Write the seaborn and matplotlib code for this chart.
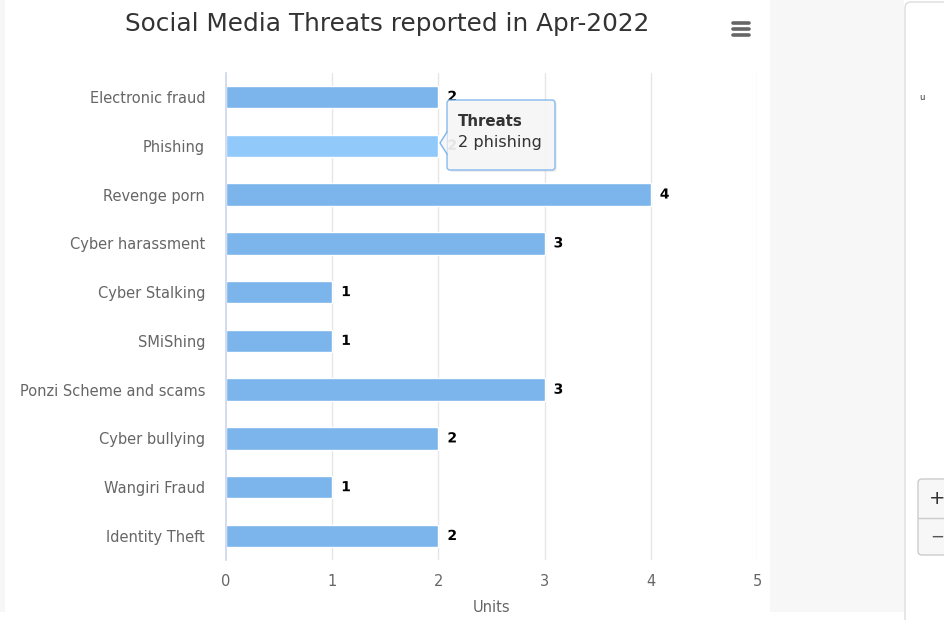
import matplotlib
matplotlib.use("Agg")
import matplotlib.pyplot as plt
from matplotlib.transforms import Affine2D
from matplotlib.patches import Rectangle, FancyBboxPatch, Polygon
from matplotlib.lines import Line2D
import matplotlib.patheffects as pe
import seaborn as sns
import pandas as pd

categories = ["Electronic fraud", "Phishing", "Revenge porn", "Cyber harassment",
              "Cyber Stalking", "SMiShing", "Ponzi Scheme and scams",
              "Cyber bullying", "Wangiri Fraud", "Identity Theft"]
threats = [2, 2, 4, 3, 1, 1, 3, 2, 1, 2]
x_ticks = [0, 1, 2, 3, 4, 5]
hovered = "Phishing"

title = "Social Media Threats reported in Apr-2022"
x_label = "Units"
tooltip_head = "Threats"
tooltip_body = "2 phishing"

W, H = 945, 620
sns.set_theme(style="white")
plt.rcParams["font.family"] = ["DejaVu Sans"]

fig = plt.figure(figsize=(W / 100, H / 100), dpi=100)
fig.patch.set_facecolor("white")
# pixel-based transform for the page decorations (origin at top-left)
px = Affine2D().scale(1 / W, -1 / H).translate(0, 1) + fig.transFigure

# page background: gray gutter and neighbouring panel
fig.add_artist(Rectangle((0, 0), 5, 612, transform=px, facecolor="#f7f7f7", edgecolor="none", zorder=0))
fig.add_artist(Rectangle((770, 0), 134, 612, transform=px, facecolor="#f7f7f7", edgecolor="none", zorder=0))
fig.add_artist(FancyBboxPatch((905, 2), 80, 700, boxstyle="round,pad=0,rounding_size=6",
                              transform=px, facecolor="white", edgecolor="#dcdcdc", lw=1, zorder=0))
fig.text(922 / W, 1 - 97 / H, "u", fontsize=6, color="#333333", ha="center", va="center")
fig.add_artist(FancyBboxPatch((918, 479), 60, 76, boxstyle="round,pad=0,rounding_size=4",
                              transform=px, facecolor="#f7f7f7", edgecolor="#cccccc", lw=1, zorder=1))
fig.add_artist(Line2D([918, 945], [518, 518], transform=px, color="#cccccc", lw=1, zorder=2))
fig.text(937 / W, 1 - 499 / H, "+", fontsize=14, color="#333333", ha="center", va="center")
fig.text(937 / W, 1 - 537 / H, "\u2212", fontsize=12, color="#555555", ha="center", va="center")

# plot area
top, bottom, left, right = 72.6, 560.4, 226, 757
ax = fig.add_axes([left / W, 1 - bottom / H, (right - left) / W, (bottom - top) / H])
ax.set_facecolor("white")

df = pd.DataFrame({"category": categories, "threats": threats})
palette = {c: ("#91c9fb" if c == hovered else "#7cb5ec") for c in categories}
sns.barplot(data=df, x="threats", y="category", hue="category", palette=palette,
            legend=False, orient="h", width=0.46, saturation=1, edgecolor="white",
            linewidth=1, ax=ax, zorder=3)

ax.set_xlim(0, 5)
ax.set_ylim(len(categories) - 0.5, -0.5)
ax.set_xticks(x_ticks)
ax.set_xticklabels([str(t) for t in x_ticks])
for t in x_ticks[1:]:
    ax.axvline(t, color="#e6e6e6", lw=1, zorder=1)
for s in ["top", "right", "bottom"]:
    ax.spines[s].set_visible(False)
ax.spines["left"].set_color("#ccd6eb")
ax.spines["left"].set_linewidth(1.2)
ax.spines["left"].set_zorder(4)
ax.tick_params(axis="both", length=0, colors="#666666", labelsize=10.5)
ax.tick_params(axis="y", pad=15)
ax.tick_params(axis="x", pad=10)
ax.set_ylabel("")
ax.set_xlabel(x_label, color="#666666", fontsize=10.5, labelpad=8)

# value labels at bar ends
for i, v in enumerate(threats):
    ax.annotate(str(v), xy=(v, i), xytext=(6.5, 0), textcoords="offset points",
                ha="left", va="center", fontsize=10, fontweight="bold", color="black",
                path_effects=[pe.withStroke(linewidth=2.5, foreground="white")], zorder=5)

fig.text(387 / W, 1 - 24 / H, title, fontsize=17.8, color="#333333", ha="center", va="center")

# export menu icon
for yy in (23, 29, 35):
    fig.add_artist(Line2D([733, 749], [yy, yy], transform=px, color="#666666", lw=2.6,
                          solid_capstyle="round", zorder=5))

# tooltip
fig.add_artist(FancyBboxPatch((449, 102), 108, 70, boxstyle="round,pad=0,rounding_size=3",
                              transform=px, facecolor="#999999", edgecolor="none", alpha=0.15, zorder=9))
fig.add_artist(FancyBboxPatch((447, 100), 108, 70, boxstyle="round,pad=0,rounding_size=3",
                              transform=px, facecolor="#f7f7f7", edgecolor="#7cb5ec", lw=1, alpha=0.92, zorder=10))
fig.add_artist(Polygon([(447.6, 132), (440, 143), (447.6, 154)], closed=True, transform=px,
                       facecolor="#f7f7f7", edgecolor="none", alpha=0.92, zorder=11))
fig.add_artist(Line2D([447, 440, 447], [132, 143, 154], transform=px, color="#7cb5ec", lw=1, zorder=11))
fig.text(458 / W, 1 - 121 / H, tooltip_head, fontsize=10.8, fontweight="bold", color="#333333",
         ha="left", va="center", zorder=12)
fig.text(458 / W, 1 - 142 / H, tooltip_body, fontsize=11.6, color="#333333",
         ha="left", va="center", zorder=12)

fig.savefig("out.png", dpi=100, facecolor="white")
